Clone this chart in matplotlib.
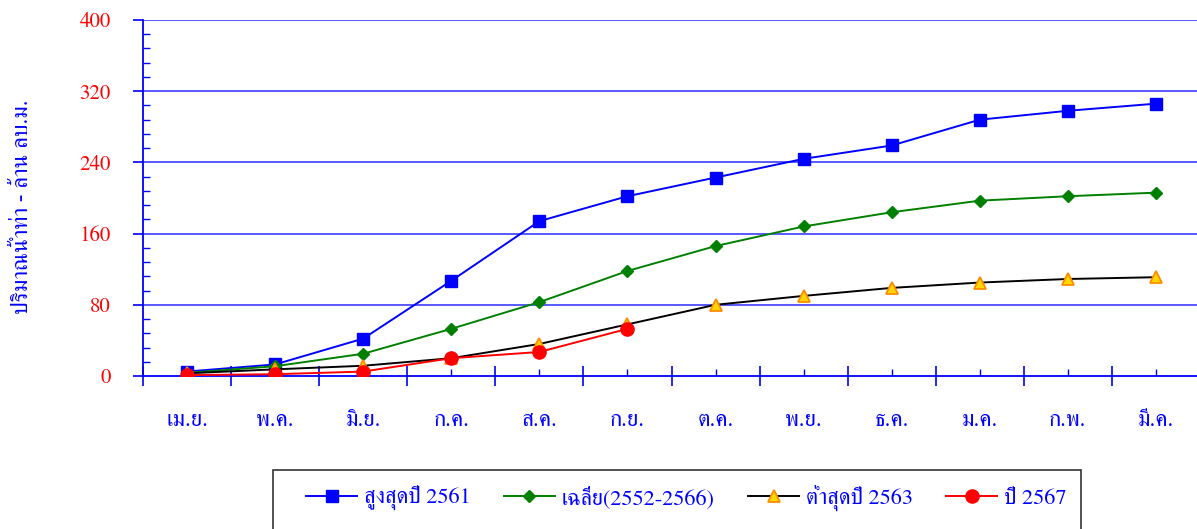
import matplotlib
matplotlib.use("Agg")
import matplotlib.pyplot as plt
from matplotlib.patches import Rectangle
from matplotlib.ticker import MultipleLocator, FixedLocator
import numpy as np

plt.rcParams['font.family'] = ['FreeSerif', 'DejaVu Serif']

months = ["เม.ย.", "พ.ค.", "มิ.ย.", "ก.ค.", "ส.ค.", "ก.ย.",
          "ต.ค.", "พ.ย.", "ธ.ค.", "ม.ค.", "ก.พ.", "มี.ค."]

max_2561 = [5, 13, 42, 107, 174, 202, 223, 244, 259, 288, 298, 306]
avg_2552_2566 = [3.5, 11, 25, 53, 83, 118, 146, 168, 184, 197, 202, 206]
min_2563 = [3, 7.5, 11.5, 20, 36, 58, 80, 90, 99, 105, 109, 111]
y_2567 = [1, 2, 5, 20, 27, 53]

labels = ["สูงสุดปี 2561", "เฉลี่ย(2552-2566)", "ต่ำสุดปี 2563", "ปี 2567"]

W, H = 1197, 529
fig = plt.figure(figsize=(W / 100, H / 100), dpi=100)
ax = fig.add_axes([143 / W, 1 - 376 / H, (1200 - 143) / W, (376 - 20) / H])

x = np.arange(len(months))
l1, = ax.plot(x, max_2561, color='#0000FF', lw=1.4, marker='s', ms=8,
              mfc='#0000FF', mec='#0000FF', zorder=3)
l2, = ax.plot(x, avg_2552_2566, color='#008000', lw=1.4, marker='D', ms=6,
              mfc='#008000', mec='#008000', zorder=4)
l3, = ax.plot(x, min_2563, color='#000000', lw=1.4, marker='^', ms=9,
              mfc='#FFD700', mec='#FF8C00', mew=1.3, zorder=5)
l4, = ax.plot(x[:len(y_2567)], y_2567, color='#FF0000', lw=1.4, marker='o', ms=9.5,
              mfc='#FF0000', mec='#FF0000', zorder=6)

ax.set_xlim(-0.5, len(months) - 0.5)
ax.set_ylim(0, 400)

for s in ['top', 'right']:
    ax.spines[s].set_visible(False)
for s in ['left', 'bottom']:
    ax.spines[s].set_color('#0000FF')
    ax.spines[s].set_linewidth(1.3)
    ax.spines[s].set_zorder(2)

# gridlines
for v in range(80, 401, 80):
    ax.axhline(v, color='#4B4BFF', lw=1.3, zorder=1)

# y ticks
ax.yaxis.set_major_locator(MultipleLocator(80))
ax.yaxis.set_minor_locator(MultipleLocator(16))
ax.tick_params(axis='y', which='major', direction='out', length=7.2, width=1.2,
               color='#0000FF', labelcolor='#FF0000', labelsize=15, pad=16)
ax.tick_params(axis='y', which='minor', direction='in', length=5, width=1.0,
               color='#0000FF')

# x ticks: labels at centers, long ticks at boundaries
ax.xaxis.set_major_locator(FixedLocator(x))
ax.set_xticklabels(months)
ax.xaxis.set_minor_locator(FixedLocator(np.arange(-0.5, len(months), 1.0)))
ax.tick_params(axis='x', which='major', direction='in', length=5, width=1.0,
               color='#0000FF', labelcolor='#0000FF', labelsize=16.5, pad=24.5)
ax.tick_params(axis='x', which='minor', direction='inout', length=15, width=1.2,
               color='#0000FF')

fig.text(22 / W, 1 - 207 / H, "ปริมาณน้ำท่า - ล้าน ลบ.ม.", rotation=90,
         ha='center', va='center', color='#0000FF', fontsize=16.5)

# legend
leg = fig.legend([l1, l2, l3, l4], labels, loc='center left',
                 bbox_to_anchor=(306 / W, 1 - 498 / H), bbox_transform=fig.transFigure,
                 ncol=4, frameon=False, fontsize=16, handlelength=2.3,
                 handletextpad=0.3, columnspacing=1.5, borderpad=0, borderaxespad=0)
for t in leg.get_texts():
    t.set_color('#0000FF')
fig.patches.append(Rectangle((273 / W, -0.05), (1081 - 273) / W, 0.05 + 1 - 470 / H,
                             transform=fig.transFigure, fill=False,
                             edgecolor='#333333', lw=1.2))

fig.savefig("out.png", dpi=100)
